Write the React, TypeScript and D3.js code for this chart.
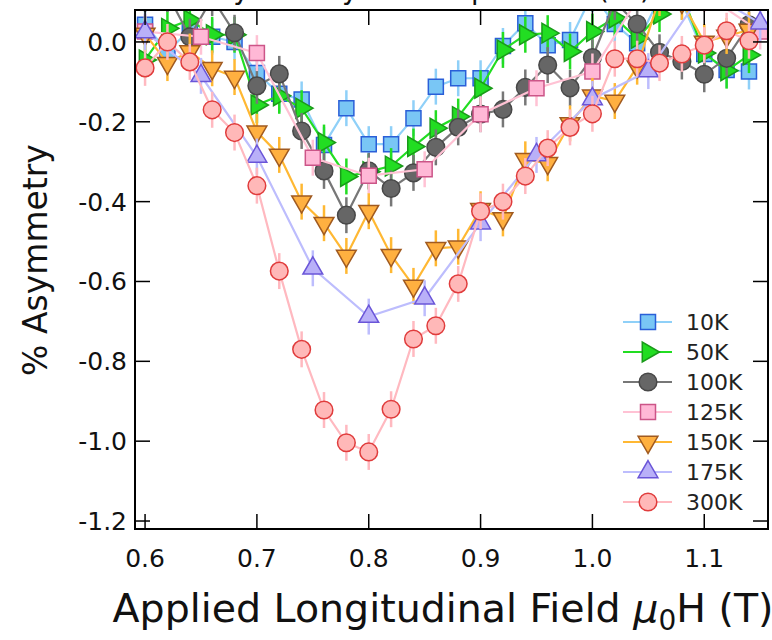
import React from 'react';
import * as d3 from 'd3';

const X2 = [0.60, 0.62, 0.64, 0.66, 0.68, 0.70, 0.72, 0.74, 0.76, 0.78, 0.80, 0.82, 0.84, 0.86, 0.88, 0.90, 0.92, 0.94, 0.96, 0.98, 1.00, 1.02, 1.04, 1.06, 1.08, 1.10, 1.12, 1.14];
const X5 = [0.60, 0.65, 0.70, 0.75, 0.80, 0.85, 0.90, 0.95, 1.00, 1.05, 1.10, 1.15];

const Y10K = [0.043, -0.024, 0.03, 0.013, 0.0, -0.078, -0.13, -0.144, -0.258, -0.166, -0.256, -0.256, -0.191, -0.112, -0.091, -0.091, -0.01, 0.047, -0.008, 0.005, 0.12, 0.045, -0.003, 0.11, 0.10, -0.03, -0.07, -0.074];
const Y50K = [-0.045, 0.034, 0.055, 0.018, 0.018, -0.158, -0.135, -0.166, -0.252, -0.337, -0.325, -0.311, -0.262, -0.216, -0.187, -0.116, -0.02, 0.018, 0.022, -0.024, 0.026, 0.06, 0.009, 0.07, 0.12, -0.028, -0.072, -0.033];
const Y100K = [0.12, 0.12, 0.013, 0.11, 0.023, -0.11, -0.08, -0.223, -0.323, -0.434, -0.323, -0.367, -0.328, -0.264, -0.214, -0.181, -0.169, -0.114, -0.058, -0.115, -0.039, 0.10, 0.045, -0.026, -0.049, -0.081, -0.041, 0.043];
const Y125K = [0.026, 0.013, -0.028, -0.29, -0.335, -0.319, -0.181, -0.116, -0.074, 0.15, 0.12, 0.026];
const Y150K = [0.02, -0.053, -0.024, -0.066, -0.088, -0.225, -0.283, -0.40, -0.454, -0.536, -0.424, -0.534, -0.611, -0.517, -0.513, -0.419, -0.442, -0.294, -0.304, -0.204, -0.135, -0.148, -0.062, 0.11, 0.10, 0.0, 0.015, 0.03];
const Y175K = [0.025, -0.085, -0.287, -0.567, -0.688, -0.642, -0.454, -0.283, -0.143, -0.073, 0.13, 0.047];
const Y300K = [-0.065, 0.0, -0.05, -0.17, -0.227, -0.36, -0.574, -0.77, -0.922, -1.004, -1.027, -0.92, -0.744, -0.711, -0.606, -0.424, -0.40, -0.336, -0.266, -0.214, -0.18, -0.042, -0.042, -0.053, -0.03, -0.008, 0.028, 0.003];

const ERR = 0.045;

const LABELS = ['10K', '50K', '100K', '125K', '150K', '175K', '300K'];
const XTICKS = [0.6, 0.7, 0.8, 0.9, 1.0, 1.1];
const YTICKS = [0.0, -0.2, -0.4, -0.6, -0.8, -1.0, -1.2];

type Shape = 'square' | 'right' | 'circle' | 'down' | 'up';

const SERIES: { name: string; xs: number[]; ys: number[]; shape: Shape; line: string; fill: string; stroke: string }[] = [
  { name: LABELS[0], xs: X2, ys: Y10K, shape: 'square', line: '#8fd0f8', fill: '#79c6f5', stroke: '#2a5fd8' },
  { name: LABELS[1], xs: X2, ys: Y50K, shape: 'right', line: '#22dd22', fill: '#22dd22', stroke: '#1a9a1a' },
  { name: LABELS[2], xs: X2, ys: Y100K, shape: 'circle', line: '#777777', fill: '#666666', stroke: '#484848' },
  { name: LABELS[3], xs: X5, ys: Y125K, shape: 'square', line: '#ffc2d4', fill: '#ffb8d6', stroke: '#cc5588' },
  { name: LABELS[4], xs: X2, ys: Y150K, shape: 'down', line: '#ffb833', fill: '#ffb040', stroke: '#a05a20' },
  { name: LABELS[5], xs: X5, ys: Y175K, shape: 'up', line: '#bdbdfd', fill: '#b9b0f8', stroke: '#6a55d8' },
  { name: LABELS[6], xs: X2, ys: Y300K, shape: 'circle', line: '#ffb9c0', fill: '#ffb8b8', stroke: '#e03c3c' },
];

const L = 135, R = 768, T = 10, B = 529;
const FONT = '"DejaVu Sans", sans-serif';

function markerPath(shape: Shape): { d: string; rot: number } {
  if (shape === 'square') return { d: d3.symbol().type(d3.symbolSquare).size(225)() as string, rot: 0 };
  if (shape === 'circle') return { d: d3.symbol().type(d3.symbolCircle).size(245)() as string, rot: 0 };
  const tri = d3.symbol().type(d3.symbolTriangle).size(170)() as string;
  if (shape === 'up') return { d: tri, rot: 0 };
  if (shape === 'down') return { d: tri, rot: 180 };
  return { d: tri, rot: 90 };
}

function Marker({ shape, x, y, fill, stroke }: { shape: Shape; x: number; y: number; fill: string; stroke: string }) {
  const m = markerPath(shape);
  return <path d={m.d} transform={`translate(${x},${y}) rotate(${m.rot})`} fill={fill} stroke={stroke} strokeWidth={1.5} />;
}

export default function App() {
  const x = d3.scaleLinear().domain([0.591, 1.157]).range([L, R]);
  const y = d3.scaleLinear().domain([-1.22, 0.08]).range([B, T]);
  const line = d3.line<[number, number]>().x(d => x(d[0])).y(d => y(d[1]));

  return (
    <svg width={772} height={640} style={{ position: 'absolute', left: 0, top: 0, background: '#fff' }} fontFamily={FONT}>
      <defs>
        <clipPath id="plot">
          <rect x={L} y={T} width={R - L} height={B - T} />
        </clipPath>
      </defs>
      <text x={200} y={-1} fontSize={27.5} fill="#111">Asymmetry vs. Temperature (LF)</text>
      <g clipPath="url(#plot)">
        {SERIES.map(s => {
          const pts = s.xs.map((xv, i) => [xv, s.ys[i]] as [number, number]);
          return (
            <g key={s.name}>
              <path d={line(pts) as string} fill="none" stroke={s.line} strokeWidth={2.2} />
              {pts.map((p, i) => (
                <line key={'e' + i} x1={x(p[0])} x2={x(p[0])} y1={y(p[1] - ERR)} y2={y(p[1] + ERR)} stroke={s.line} strokeWidth={2.5} />
              ))}
              {pts.map((p, i) => (
                <Marker key={'m' + i} shape={s.shape} x={x(p[0])} y={y(p[1])} fill={s.fill} stroke={s.stroke} />
              ))}
            </g>
          );
        })}
      </g>
      <rect x={L} y={T} width={R - L} height={B - T} fill="none" stroke="#000" strokeWidth={2} />
      {XTICKS.map(t => (
        <g key={'xt' + t}>
          <line x1={x(t)} x2={x(t)} y1={B} y2={B - 15} stroke="#000" strokeWidth={1.5} />
          <line x1={x(t)} x2={x(t)} y1={T} y2={T + 15} stroke="#000" strokeWidth={1.5} />
          <text x={x(t)} y={567} fontSize={25} textAnchor="middle" fill="#111">{t.toFixed(1)}</text>
        </g>
      ))}
      {YTICKS.map(t => (
        <g key={'yt' + t}>
          <line x1={L} x2={L + 15} y1={y(t)} y2={y(t)} stroke="#000" strokeWidth={1.5} />
          <line x1={R} x2={R - 15} y1={y(t)} y2={y(t)} stroke="#000" strokeWidth={1.5} />
          <text x={127} y={y(t) + 9} fontSize={25} textAnchor="end" fill="#111">{t === 0 ? '0.0' : t.toFixed(1)}</text>
        </g>
      ))}
      {SERIES.map((s, i) => {
        const ly = 322 + i * 30;
        return (
          <g key={'lg' + s.name}>
            <line x1={623} x2={672} y1={ly} y2={ly} stroke={s.line} strokeWidth={2.2} />
            <Marker shape={s.shape} x={648} y={ly} fill={s.fill} stroke={s.stroke} />
            <text x={686} y={ly + 8} fontSize={22} fill="#222">{s.name}</text>
          </g>
        );
      })}
      <text transform="translate(47,260) rotate(-90)" fontSize={33} textAnchor="middle" fill="#111">% Asymmetry</text>
      <text x={443} y={622} fontSize={39.5} textAnchor="middle" fill="#111">
        Applied Longitudinal Field <tspan fontStyle="italic">μ</tspan><tspan fontSize={28} dy={8}>0</tspan><tspan dy={-8}>H (T)</tspan>
      </text>
    </svg>
  );
}
